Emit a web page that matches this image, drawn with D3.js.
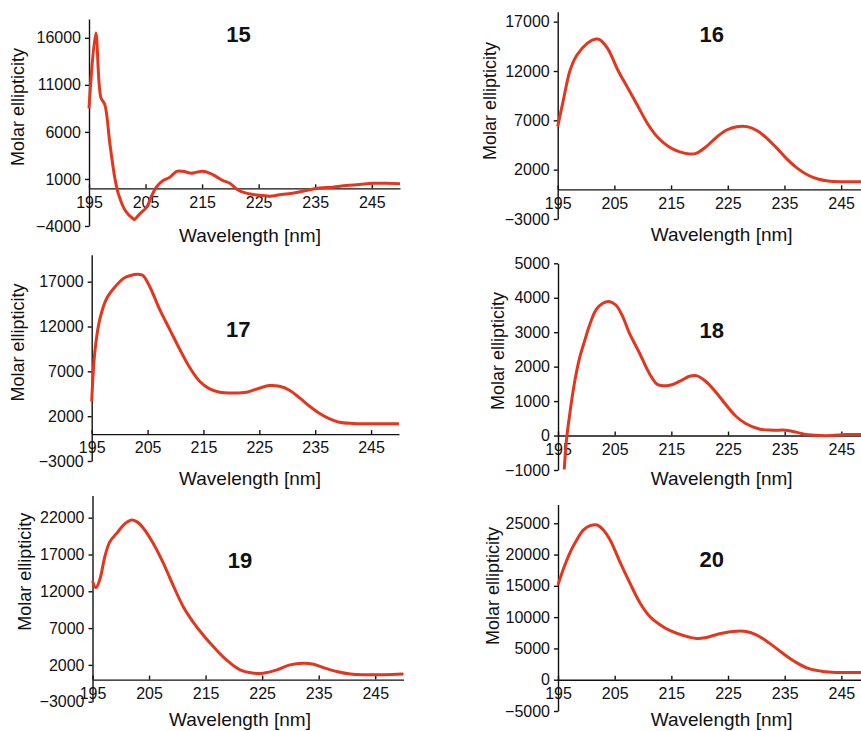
<!DOCTYPE html>
<html lang="en">
  <head>
    <meta charset="utf-8">
    <title>CD spectra 15-20</title>
    <style>
      body {margin: 0; background: #fff;}
      svg {display: block; font-family: "Liberation Sans", Arial, Helvetica, sans-serif;}
      .axis path, .axis line {stroke: #111; stroke-width: 1.4px;}
      .axis text {font-size: 16px; fill: #111;}
      .curve {fill: none; stroke: #e2371f; stroke-width: 3px; stroke-linejoin: round;}
      .ylab, .xlab {fill: #111; text-anchor: middle;}
      .ylab {font-size: 18px;}
      .xlab {font-size: 19px;}
      .title {font-size: 22px; font-weight: bold; fill: #111; text-anchor: middle;}
    </style>
    <script src="https://d3js.org/d3.v7.min.js"></script>
  </head>
  <body>
    <script>
      // shared x ticks (nm)
      var xTicks = [195, 205, 215, 225, 235, 245];

      // y ticks per compound
      var yTicks15 = [-4000, 1000, 6000, 11000, 16000];
      var yTicks16 = [-3000, 2000, 7000, 12000, 17000];
      var yTicks17 = [-3000, 2000, 7000, 12000, 17000];
      var yTicks18 = [-1000, 0, 1000, 2000, 3000, 4000, 5000];
      var yTicks19 = [-3000, 2000, 7000, 12000, 17000, 22000];
      var yTicks20 = [-5000, 0, 5000, 10000, 15000, 20000, 25000];

      // spectra
      var wl15 = [195, 196.2, 197.1, 197.8, 198.7, 199.6, 200.2, 201.4, 202.8, 203, 204, 205.2, 206.1, 206.9, 208.1, 209.3, 210.5, 211.6, 213.1, 213.9, 215.1, 216.4, 217.5, 218.7, 219.9, 221.1, 222.2, 224, 225.8, 226.9, 228.7, 231, 233.4, 235.8, 238.1, 240.5, 242.8, 245.2, 247.5, 250];
      var cd15 = [8500, 16500, 9650, 8900, 4700, 1000, -590, -2350, -3230, -3300, -2700, -2000, -760, 120, 830, 1180, 1810, 1810, 1600, 1700, 1810, 1600, 1250, 830, 540, -60, -400, -660, -760, -830, -690, -510, -230, 50, 120, 300, 400, 540, 540, 500];

      var wl16 = [195, 196, 197.2, 198.4, 200.2, 201.7, 202.3, 203.8, 205.6, 207.4, 209.2, 211, 212.8, 214.6, 216.4, 218.2, 219.4, 221.2, 223, 224.8, 226.6, 228.4, 230.2, 231.9, 233.7, 235.5, 237.3, 239.1, 240.9, 242.7, 245.1, 247.5, 250];
      var cd16 = [6360, 9060, 12100, 13620, 14800, 15240, 15210, 14300, 12100, 10240, 8380, 6530, 5180, 4330, 3820, 3590, 3650, 4330, 5280, 6020, 6360, 6360, 5950, 5180, 4160, 3050, 2130, 1460, 1050, 850, 780, 780, 780];

      var wl17 = [195, 195.6, 196.5, 197.7, 199.2, 200.7, 201.8, 203.6, 204.2, 205.4, 207.2, 209, 210.8, 212.6, 214.3, 216.1, 217.9, 220.3, 222.7, 225.1, 226.8, 228.6, 230.4, 232.2, 234, 235.8, 237.6, 239.3, 241.7, 244.1, 247.1, 250];
      var cd17 = [3670, 9400, 12930, 15150, 16440, 17370, 17670, 17810, 17670, 16440, 13850, 11630, 9410, 7370, 5890, 5040, 4670, 4590, 4670, 5150, 5410, 5330, 4890, 4040, 3110, 2300, 1700, 1330, 1190, 1150, 1150, 1150];

      var wl18 = [196.1, 196.5, 197.1, 197.9, 198.8, 199.7, 200.5, 201.7, 202.9, 204, 205.2, 206.4, 207.6, 209.4, 211.1, 212.6, 214.7, 216.4, 218.2, 219.4, 221.1, 222.9, 224.6, 226.4, 228.1, 230.5, 232.9, 235.2, 237, 238.7, 241.1, 243.4, 245.8, 250];
      var cd18 = [-985, -116, 656, 1525, 2250, 2750, 3170, 3650, 3840, 3890, 3790, 3460, 2970, 2390, 1810, 1480, 1460, 1570, 1720, 1740, 1570, 1250, 900, 560, 350, 190, 155, 155, 100, 30, 0, 0, 30, 30];

      var wl19 = [195, 195.6, 196.3, 197.2, 198.1, 199.3, 200.7, 201.9, 202.8, 204, 205.7, 207.5, 209.3, 211.1, 212.8, 214.6, 216.4, 218.7, 221.1, 223.5, 225.2, 227.6, 229.9, 232.3, 234.1, 235.8, 238.2, 240.6, 243.5, 246.5, 250];
      var cd19 = [13410, 12510, 13630, 16760, 18780, 19900, 21150, 21690, 21460, 20570, 18560, 15870, 12740, 9830, 7820, 6030, 4460, 2670, 1330, 880, 880, 1330, 2000, 2220, 2090, 1640, 1100, 750, 660, 660, 750];

      var wl20 = [195, 196, 197.2, 198.3, 199.5, 200.7, 201.9, 203, 204.2, 205.9, 207.7, 209.5, 211.2, 213, 214.7, 217.1, 219.4, 221.2, 223.5, 225.9, 228.2, 230, 232.3, 234.6, 237, 239.3, 241.7, 244, 246.3, 250];
      var cd20 = [15160, 17820, 20480, 22340, 23940, 24630, 24730, 23940, 22340, 18880, 15430, 12230, 10110, 8780, 7870, 7070, 6600, 6760, 7340, 7710, 7710, 7180, 5850, 4260, 2770, 1760, 1330, 1170, 1170, 1170];

      // panel placement (pixels) and y domain
      var panels = [
        {name: "15", wl: wl15, cd: cd15, ticks: yTicks15, yDom: [-4000, 18000],
         x0: 89, x1: 400, yBot: 226, yTop: 19, ylab: [18, 107], xlab: [250, 241.5], title: [238.5, 41.5]},
        {name: "16", wl: wl16, cd: cd16, ticks: yTicks16, yDom: [-3000, 18000],
         x0: 557.7, x1: 869.5, yBot: 219, yTop: 11.8, ylab: [490, 101], xlab: [721.7, 241], title: [711.7, 42]},
        {name: "17", wl: wl17, cd: cd17, ticks: yTicks17, yDom: [-3000, 20000],
         x0: 91.7, x1: 399, yBot: 461, yTop: 254.8, ylab: [18, 342.5], xlab: [250, 485], title: [238.3, 337]},
        {name: "18", wl: wl18, cd: cd18, ticks: yTicks18, yDom: [-1000, 5000],
         x0: 558, x1: 869.7, yBot: 470, yTop: 263.3, ylab: [498, 351], xlab: [721.7, 485], title: [711.7, 337.5]},
        {name: "19", wl: wl19, cd: cd19, ticks: yTicks19, yDom: [-3000, 25000],
         x0: 92.5, x1: 403.5, yBot: 701.7, yTop: 495.6, ylab: [25, 571.7], xlab: [240, 726], title: [240, 567.5]},
        {name: "20", wl: wl20, cd: cd20, ticks: yTicks20, yDom: [-5000, 28000],
         x0: 558, x1: 869.7, yBot: 711, yTop: 504.5, ylab: [493, 586], xlab: [721.7, 726], title: [711.7, 567]}
      ];

      var svg = d3.select("body").append("svg")
        .attr("width", 861)
        .attr("height", 731);

      var fmt = d3.format("d");

      panels.forEach(function(p) {
        var x = d3.scaleLinear().domain([195, 250]).range([p.x0, p.x1]);
        var y = d3.scaleLinear().domain(p.yDom).range([p.yBot, p.yTop]);
        var g = svg.append("g");

        // y axis, small outward ticks
        g.append("g")
          .attr("class", "axis")
          .attr("transform", "translate(" + p.x0 + ",0)")
          .call(d3.axisLeft(y).tickValues(p.ticks).tickFormat(fmt)
            .tickSizeInner(4).tickSizeOuter(0).tickPadding(4));

        // x axis sits on zero, ticks point up
        g.append("g")
          .attr("class", "axis")
          .attr("transform", "translate(0," + y(0) + ")")
          .call(d3.axisBottom(x).tickValues(xTicks).tickFormat(fmt)
            .tickSizeInner(-4).tickSizeOuter(0).tickPadding(8));

        var line = d3.line()
          .x(function(d, i) { return x(p.wl[i]); })
          .y(function(d) { return y(d); })
          .curve(d3.curveCatmullRom);

        g.append("path")
          .attr("class", "curve")
          .attr("d", line(p.cd));

        g.append("text")
          .attr("class", "ylab")
          .attr("transform", "translate(" + p.ylab[0] + "," + p.ylab[1] + ") rotate(-90)")
          .attr("dy", "0.35em")
          .text("Molar ellipticity");

        g.append("text")
          .attr("class", "xlab")
          .attr("x", p.xlab[0])
          .attr("y", p.xlab[1])
          .text("Wavelength [nm]");

        g.append("text")
          .attr("class", "title")
          .attr("x", p.title[0])
          .attr("y", p.title[1])
          .text(p.name);
      });
    </script>
  </body>
</html>
